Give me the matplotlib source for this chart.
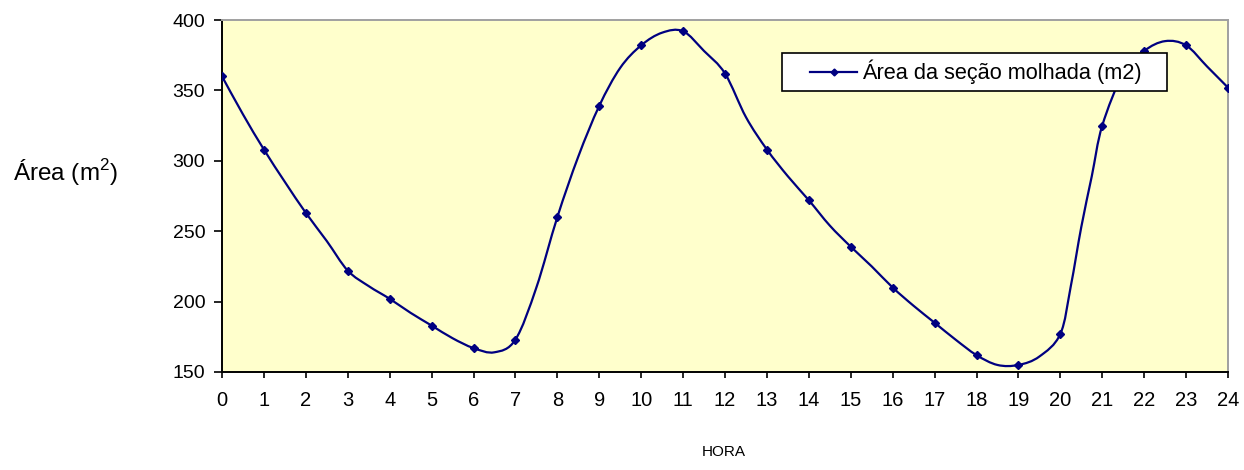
import matplotlib
matplotlib.use("Agg")
import matplotlib.pyplot as plt
from matplotlib.path import Path
from matplotlib.patches import PathPatch, Rectangle
from matplotlib.lines import Line2D
from matplotlib.legend_handler import HandlerLine2D

plt.rcParams['font.family'] = ['Liberation Sans', 'DejaVu Sans']
plt.rcParams['mathtext.fontset'] = 'custom'
plt.rcParams['mathtext.rm'] = 'Liberation Sans'

# Hours (every half hour, quarter hours on the steep rise after 20 h)
hours = [0, 0.5, 1, 1.5, 2, 2.5, 3, 3.5, 4, 4.5, 5, 5.5, 6, 6.5, 7, 7.5, 8, 8.5,
         9, 9.5, 10, 10.5, 11, 11.5, 12, 12.5, 13, 13.5, 14, 14.5, 15, 15.5, 16,
         16.5, 17, 17.5, 18, 18.5, 19, 19.5, 20, 20.25, 20.5, 20.75, 21, 21.5,
         22, 22.5, 23, 23.5, 24]
area = [360, 333, 308, 285, 263, 243, 222, 211, 202, 192, 183, 174, 167, 164,
        173, 210, 260, 303, 339, 366, 382, 391, 392, 378, 362, 331, 308, 289,
        272, 254, 239, 225, 210, 197, 185, 173, 162, 155, 155, 161, 177, 211,
        253, 289, 325, 362, 378, 385, 382, 367, 352]
marker_hours = list(range(0, 25))
x_ticks = list(range(0, 25))
y_ticks = [150, 200, 250, 300, 350, 400]
series_label = 'Área da seção molhada (m2)'

LINE_COLOR = '#000080'

fig = plt.figure(figsize=(12.44, 4.70), dpi=100)
ax = fig.add_axes([222/1244, 1 - 372/470, (1228 - 222)/1244, (372 - 20)/470])
ax.set_facecolor('#FFFFCC')

# Smoothed line (Catmull-Rom as cubic Bezier, like a spreadsheet "smoothed line")
n = len(hours)
verts = [(hours[0], area[0])]
codes = [Path.MOVETO]
for i in range(n - 1):
    p0 = (hours[max(i - 1, 0)], area[max(i - 1, 0)])
    p1 = (hours[i], area[i])
    p2 = (hours[i + 1], area[i + 1])
    p3 = (hours[min(i + 2, n - 1)], area[min(i + 2, n - 1)])
    c1 = (p1[0] + (p2[0] - p0[0]) / 6, p1[1] + (p2[1] - p0[1]) / 6)
    c2 = (p2[0] - (p3[0] - p1[0]) / 6, p2[1] - (p3[1] - p1[1]) / 6)
    verts += [c1, c2, p2]
    codes += [Path.CURVE4] * 3
ax.add_patch(PathPatch(Path(verts, codes), fill=False, edgecolor=LINE_COLOR,
                       lw=1.6, transform=ax.transData, clip_on=True, zorder=2))

mark_idx = [hours.index(h) for h in marker_hours]
ax.plot([hours[i] for i in mark_idx], [area[i] for i in mark_idx], ls='none',
        marker='D', markersize=4, color=LINE_COLOR, zorder=3)

ax.set_xlim(0, 24)
ax.set_ylim(150, 400)
ax.set_xticks(x_ticks)
ax.set_yticks(y_ticks)
ax.tick_params(axis='both', direction='out', width=1.2, color='black')
ax.tick_params(axis='x', length=4.5, pad=9.5, labelsize=14.5)
ax.tick_params(axis='y', length=5.5, pad=6.5, labelsize=14)
for side in ['left', 'bottom']:
    ax.spines[side].set_color('black')
    ax.spines[side].set_linewidth(1.4)
for side in ['top', 'right']:
    ax.spines[side].set_color('#A0A0A0')
    ax.spines[side].set_linewidth(1.4)

fig.text(724/1244, 1 - 452/470, 'HORA', fontsize=11, ha='center', va='center')
fig.text(66/1244, 1 - 173/470, r'Área (m$^{\mathregular{2}}$)', fontsize=17.5,
         ha='center', va='center')

# Legend: white box drawn inside the axes (over the curve), legend on top
fs = 15.7
ax.add_patch(Rectangle((782/1244, 1 - 91/470), (1167 - 782)/1244, 38/470,
                       transform=fig.transFigure, facecolor='white',
                       edgecolor='black', lw=1.2, zorder=5, clip_on=False))
proxy = Line2D([], [], color=LINE_COLOR, lw=1.6, marker='D', markersize=3.5)
leg = ax.legend([proxy], [series_label], loc='center left',
                bbox_to_anchor=(810/1244, 1 - 72/470),
                bbox_transform=fig.transFigure, fontsize=fs, frameon=False,
                handlelength=47/21.8, borderpad=0, borderaxespad=0,
                handletextpad=5/21.8,
                handler_map={Line2D: HandlerLine2D(numpoints=1)})
leg.set_zorder(6)

fig.savefig('out.png', dpi=100)
